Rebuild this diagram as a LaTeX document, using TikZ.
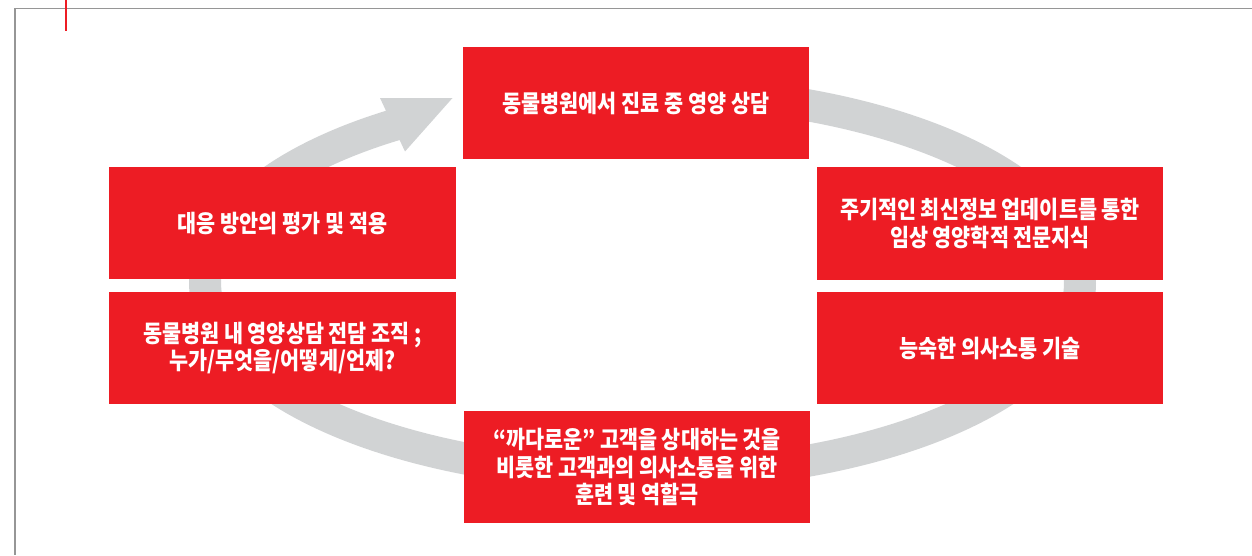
\documentclass[tikz,border=0pt]{standalone}
\usepackage{fontspec}
\newfontfamily\kr{Noto Sans CJK KR}[FakeStretch=0.86]
\definecolor{boxred}{RGB}{237,28,36}
\definecolor{ringgray}{RGB}{209,211,212}
\definecolor{framegray}{RGB}{150,150,150}
\tikzset{
  box/.style={fill=boxred, draw=none, minimum width=6.93cm, minimum height=2.25cm,
    inner sep=0pt, text=white, align=center,
    font=\kr\bfseries\fontsize{13.7pt}{15.4pt}\selectfont},
  ring/.style={draw=ringgray, line width=0.64cm},
  framel/.style={draw=framegray, line width=0.03cm},
}
\begin{document}
\begin{tikzpicture}[x=0.02cm,y=-0.02cm]
\useasboundingbox (0,0) rectangle (1252,555);
% frame
\coordinate (fa) at (1252,8.6);
\coordinate (fb) at (14.8,8.6);
\coordinate (fc) at (14.8,555);
\draw[framel] (fa) -- (fb) -- (fc);
\coordinate (ra) at (66,0);
\coordinate (rb) at (66,31);
\draw[draw=boxred, line width=0.025cm] (ra) -- (rb);
% ring
\coordinate (c) at (642.5,283);
\draw[ring] (c) ++(100:8.75cm and 3.84cm) arc[start angle=100, end angle=-238, x radius=8.75cm, y radius=3.84cm];
\coordinate (h1) at (380,98);
\coordinate (h2) at (452.5,98);
\coordinate (h3) at (405,151.5);
\fill[ringgray] (h1) -- (h2) -- (h3) -- cycle;
% boxes
\node[box] (top) at (636,103) {동물병원에서 진료 중 영양 상담};
\node[box] (lu) at (282.5,223) {대응 방안의 평가 및 적용};
\node[box] (ll) at (282.5,348) {동물병원 내 영양상담 전담 조직 ;\\누가/무엇을/어떻게/언제?};
\node[box] (ru) at (990,223.5) {주기적인 최신정보 업데이트를 통한\\임상 영양학적 전문지식};
\node[box] (rl) at (990,348) {능숙한 의사소통 기술};
\node[box] (bot) at (637,467) {“까다로운” 고객을 상대하는 것을\\비롯한 고객과의 의사소통을 위한\\훈련 및 역할극};
\end{tikzpicture}
\end{document}
